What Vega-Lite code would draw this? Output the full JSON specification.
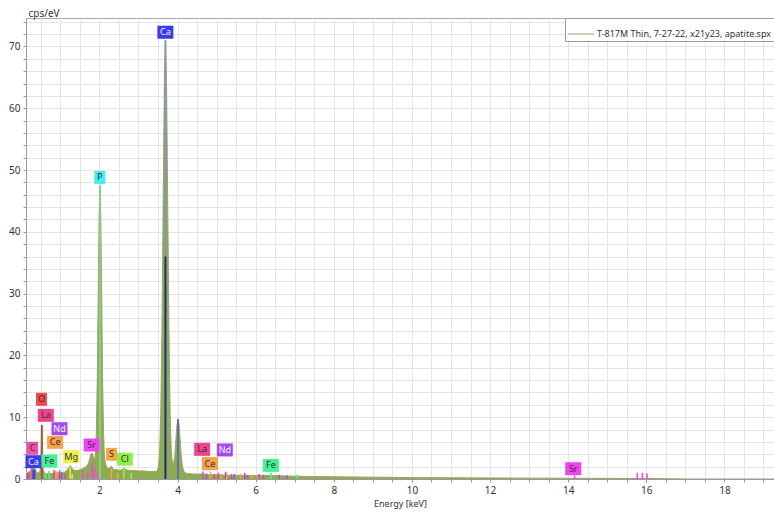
{
  "$schema": "https://vega.github.io/schema/vega-lite/v6.json",
  "width": 748,
  "height": 461,
  "autosize": {"type": "none"},
  "padding": {"left": 26, "top": 18, "right": 0, "bottom": 34},
  "background": "white",
  "config": {
    "font": "Noto Sans",
    "view": {"stroke": "#a8a8a8"}
  },
  "datasets": {
    "spectrum": [
      {"E": 0.12, "v": 0.6}, {"E": 0.16, "v": 0.9}, {"E": 0.2, "v": 1.1}, {"E": 0.24, "v": 1.4},
      {"E": 0.26, "v": 1.9}, {"E": 0.277, "v": 2.4}, {"E": 0.3, "v": 2.0}, {"E": 0.34, "v": 1.8},
      {"E": 0.38, "v": 1.2}, {"E": 0.42, "v": 1.0}, {"E": 0.46, "v": 1.0}, {"E": 0.49, "v": 1.6},
      {"E": 0.505, "v": 4.0}, {"E": 0.515, "v": 7.0}, {"E": 0.525, "v": 8.7}, {"E": 0.535, "v": 7.0},
      {"E": 0.545, "v": 4.0}, {"E": 0.56, "v": 1.6}, {"E": 0.6, "v": 0.9}, {"E": 0.65, "v": 0.8},
      {"E": 0.7, "v": 1.0}, {"E": 0.75, "v": 0.9}, {"E": 0.8, "v": 0.9}, {"E": 0.85, "v": 1.1},
      {"E": 0.9, "v": 1.0}, {"E": 0.95, "v": 1.0}, {"E": 1.0, "v": 1.0}, {"E": 1.05, "v": 1.1},
      {"E": 1.1, "v": 1.1}, {"E": 1.15, "v": 1.3}, {"E": 1.2, "v": 1.7}, {"E": 1.254, "v": 2.2},
      {"E": 1.3, "v": 1.7}, {"E": 1.35, "v": 1.4}, {"E": 1.4, "v": 1.4}, {"E": 1.45, "v": 1.4},
      {"E": 1.5, "v": 1.5}, {"E": 1.55, "v": 1.6}, {"E": 1.6, "v": 1.8}, {"E": 1.656, "v": 2.0},
      {"E": 1.706, "v": 2.4}, {"E": 1.731, "v": 2.8}, {"E": 1.756, "v": 3.4}, {"E": 1.781, "v": 4.0},
      {"E": 1.806, "v": 4.2}, {"E": 1.831, "v": 3.9}, {"E": 1.856, "v": 3.3}, {"E": 1.878, "v": 3.1},
      {"E": 1.9005, "v": 4.2}, {"E": 1.923, "v": 8.2}, {"E": 1.9455, "v": 16.6}, {"E": 1.968, "v": 29.5},
      {"E": 1.9905, "v": 42.1}, {"E": 2.013, "v": 47.5}, {"E": 2.0355, "v": 42.1}, {"E": 2.058, "v": 29.5},
      {"E": 2.0805, "v": 16.6}, {"E": 2.103, "v": 8.0}, {"E": 2.1255, "v": 3.9}, {"E": 2.148, "v": 2.7},
      {"E": 2.17, "v": 2.2}, {"E": 2.2, "v": 1.8}, {"E": 2.25, "v": 1.7}, {"E": 2.307, "v": 2.1},
      {"E": 2.35, "v": 1.6}, {"E": 2.4, "v": 1.5}, {"E": 2.46, "v": 1.5}, {"E": 2.52, "v": 1.4},
      {"E": 2.58, "v": 1.5}, {"E": 2.622, "v": 1.8}, {"E": 2.67, "v": 1.5}, {"E": 2.75, "v": 1.4},
      {"E": 2.85, "v": 1.4}, {"E": 3.0, "v": 1.3}, {"E": 3.15, "v": 1.3}, {"E": 3.3, "v": 1.2},
      {"E": 3.42, "v": 1.2}, {"E": 3.48, "v": 1.3}, {"E": 3.51, "v": 2.0}, {"E": 3.54, "v": 4.2},
      {"E": 3.57, "v": 10.5}, {"E": 3.6, "v": 23.7}, {"E": 3.63, "v": 43.5}, {"E": 3.66, "v": 62.8},
      {"E": 3.69, "v": 71.0}, {"E": 3.72, "v": 62.8}, {"E": 3.75, "v": 43.5}, {"E": 3.78, "v": 23.7},
      {"E": 3.81, "v": 10.5}, {"E": 3.84, "v": 4.4}, {"E": 3.87, "v": 2.6}, {"E": 3.9, "v": 2.5},
      {"E": 3.93, "v": 3.8}, {"E": 3.957, "v": 6.3}, {"E": 3.985, "v": 8.7}, {"E": 4.012, "v": 9.7},
      {"E": 4.04, "v": 8.7}, {"E": 4.067, "v": 6.3}, {"E": 4.095, "v": 3.8}, {"E": 4.122, "v": 2.2},
      {"E": 4.15, "v": 1.4}, {"E": 4.19, "v": 1.0}, {"E": 4.25, "v": 0.9}, {"E": 4.4, "v": 0.8},
      {"E": 4.6, "v": 0.8}, {"E": 4.8, "v": 0.7}, {"E": 5.0, "v": 0.7}, {"E": 5.3, "v": 0.6},
      {"E": 5.6, "v": 0.6}, {"E": 6.0, "v": 0.55}, {"E": 6.4, "v": 0.6}, {"E": 6.7, "v": 0.5},
      {"E": 7.0, "v": 0.45}, {"E": 7.5, "v": 0.4}, {"E": 8.0, "v": 0.37}, {"E": 8.5, "v": 0.33},
      {"E": 9.0, "v": 0.3}, {"E": 9.5, "v": 0.27}, {"E": 10.0, "v": 0.22}, {"E": 11.0, "v": 0.2},
      {"E": 12.0, "v": 0.17}, {"E": 13.0, "v": 0.14}, {"E": 14.0, "v": 0.12}, {"E": 15.0, "v": 0.1},
      {"E": 16.0, "v": 0.08}, {"E": 16.5, "v": 0.05}, {"E": 16.9, "v": 0.02}, {"E": 17.0, "v": 0.0},
      {"E": 19.27, "v": 0.0}
    ],
    "peaks": [
      {"E": 0.525, "lo": 0, "v": 8.7, "kind": "O"},
      {"E": 2.013, "lo": 0, "v": 47.5, "kind": "P"},
      {"E": 3.69, "lo": 36, "v": 71, "kind": "CaTop"},
      {"E": 3.69, "lo": 0, "v": 36, "kind": "CaKa"},
      {"E": 4.012, "lo": 0, "v": 9.7, "kind": "CaKb"}
    ],
    "markers": [
      {"E": 0.16, "v": 1.0, "el": "Nd"}, {"E": 0.2, "v": 1.2, "el": "La"},
      {"E": 0.277, "v": 2.0, "el": "C"}, {"E": 0.302, "v": 1.5, "el": "Ca"}, {"E": 0.341, "v": 1.5, "el": "Ca"},
      {"E": 0.615, "v": 1.0, "el": "Fe"}, {"E": 0.705, "v": 1.3, "el": "Fe"}, {"E": 0.718, "v": 1.0, "el": "Fe"},
      {"E": 0.833, "v": 1.4, "el": "La"}, {"E": 0.87, "v": 1.0, "el": "La"}, {"E": 0.883, "v": 1.4, "el": "Ce"},
      {"E": 0.93, "v": 1.0, "el": "Ce"}, {"E": 0.978, "v": 1.4, "el": "Nd"}, {"E": 1.03, "v": 1.0, "el": "Nd"},
      {"E": 1.12, "v": 0.9, "el": "La"}, {"E": 1.254, "v": 2.0, "el": "Mg"}, {"E": 1.302, "v": 0.8, "el": "Mg"},
      {"E": 1.582, "v": 1.2, "el": "Sr"}, {"E": 1.7, "v": 1.0, "el": "Sr"}, {"E": 1.806, "v": 2.8, "el": "Sr"},
      {"E": 1.872, "v": 1.6, "el": "Sr"}, {"E": 1.95, "v": 1.0, "el": "Sr"}, {"E": 2.307, "v": 1.6, "el": "S"},
      {"E": 2.464, "v": 1.0, "el": "S"}, {"E": 2.622, "v": 1.6, "el": "Cl"}, {"E": 2.815, "v": 1.0, "el": "Cl"},
      {"E": 4.65, "v": 1.2, "el": "La"}, {"E": 4.74, "v": 0.9, "el": "Nd"}, {"E": 4.84, "v": 1.2, "el": "Ce"},
      {"E": 4.94, "v": 0.8, "el": "La"}, {"E": 5.04, "v": 1.0, "el": "La"}, {"E": 5.12, "v": 0.8, "el": "Ce"},
      {"E": 5.23, "v": 1.2, "el": "Nd"}, {"E": 5.26, "v": 1.0, "el": "Ce"}, {"E": 5.38, "v": 0.8, "el": "La"},
      {"E": 5.45, "v": 0.8, "el": "Nd"}, {"E": 5.61, "v": 0.8, "el": "Ce"}, {"E": 5.72, "v": 1.0, "el": "Nd"},
      {"E": 5.79, "v": 0.7, "el": "La"}, {"E": 5.9, "v": 0.7, "el": "Ce"}, {"E": 6.05, "v": 0.7, "el": "Ce"},
      {"E": 6.09, "v": 0.8, "el": "Nd"}, {"E": 6.2, "v": 0.7, "el": "La"}, {"E": 6.4, "v": 1.0, "el": "Fe"},
      {"E": 6.6, "v": 0.7, "el": "Nd"}, {"E": 6.8, "v": 0.6, "el": "Nd"}, {"E": 7.06, "v": 0.7, "el": "Fe"},
      {"E": 14.165, "v": 0.6, "el": "Sr"}, {"E": 15.77, "v": 1.0, "el": "Sr"}, {"E": 15.9, "v": 1.0, "el": "Sr"},
      {"E": 16.02, "v": 0.9, "el": "Sr"}
    ],
    "labels": [
      {"E": 3.688, "v": 72.3, "el": "Ca"}, {"E": 2.01, "v": 48.8, "el": "P"},
      {"E": 0.516, "v": 12.9, "el": "O"}, {"E": 0.627, "v": 10.3, "el": "La"},
      {"E": 0.977, "v": 8.14, "el": "Nd"}, {"E": 0.865, "v": 5.94, "el": "Ce"},
      {"E": 0.286, "v": 4.97, "el": "C"}, {"E": 0.311, "v": 2.8, "el": "Ca"},
      {"E": 0.72, "v": 2.9, "el": "Fe"}, {"E": 1.275, "v": 3.6, "el": "Mg"},
      {"E": 1.8, "v": 5.5, "el": "Sr"}, {"E": 2.31, "v": 4.0, "el": "S"},
      {"E": 2.65, "v": 3.2, "el": "Cl"}, {"E": 4.63, "v": 4.8, "el": "La"},
      {"E": 5.21, "v": 4.7, "el": "Nd"}, {"E": 4.83, "v": 2.5, "el": "Ce"},
      {"E": 6.39, "v": 2.2, "el": "Fe"}, {"E": 14.13, "v": 1.67, "el": "Sr"}
    ]
  },
  "encoding": {
    "x": {
      "field": "E", "type": "quantitative",
      "scale": {"domain": [0.12, 19.27], "nice": false, "zero": false},
      "axis": {
        "title": "Energy [keV]",
        "values": [0.5, 1, 1.5, 2, 2.5, 3, 3.5, 4, 4.5, 5, 5.5, 6, 6.5, 7, 7.5, 8, 8.5, 9, 9.5, 10, 10.5, 11, 11.5, 12, 12.5, 13, 13.5, 14, 14.5, 15, 15.5, 16, 16.5, 17, 17.5, 18, 18.5, 19],
        "labelExpr": "datum.value % 2 === 0 ? format(datum.value, 'd') : ''",
        "grid": true, "gridColor": "#e4e4e4", "gridWidth": 1,
        "domainColor": "#9a9a9a", "tickColor": "#9a9a9a", "tickSize": 3,
        "labelFontSize": 10, "labelColor": "#333333", "labelPadding": 3,
        "labelOverlap": false, "labelFlush": false,
        "titleFontSize": 9, "titleFontWeight": "normal", "titleColor": "#333333",
        "titleY": 24, "titleBaseline": "middle"
      }
    },
    "y": {
      "field": "v", "type": "quantitative",
      "scale": {"domain": [0, 74.6], "nice": false, "zero": true},
      "axis": {
        "title": "cps/eV",
        "values": [0, 2, 4, 6, 8, 10, 12, 14, 16, 18, 20, 22, 24, 26, 28, 30, 32, 34, 36, 38, 40, 42, 44, 46, 48, 50, 52, 54, 56, 58, 60, 62, 64, 66, 68, 70, 72, 74],
        "labelExpr": "datum.value % 10 === 0 ? format(datum.value, 'd') : ''",
        "grid": true, "gridColor": "#e4e4e4", "gridWidth": 1,
        "domainColor": "#9a9a9a", "tickColor": "#9a9a9a", "tickSize": 3,
        "labelFontSize": 10, "labelColor": "#333333", "labelPadding": 3,
        "labelOverlap": false, "labelFlush": false,
        "titleAngle": 0, "titleX": 2, "titleY": -5, "titleAlign": "left", "titleBaseline": "middle",
        "titleFontSize": 10, "titleFontWeight": "normal", "titleColor": "#333333"
      }
    }
  },
  "layer": [
    {
      "data": {"name": "spectrum"},
      "mark": {"type": "area", "color": "#8dab50", "clip": true, "opacity": 1}
    },
    {
      "data": {"name": "spectrum"},
      "mark": {"type": "line", "strokeWidth": 1, "clip": true},
      "encoding": {
        "color": {
          "datum": "T-817M Thin, 7-27-22, x21y23, apatite.spx",
          "scale": {"range": ["#9ea36a"]},
          "legend": {
            "title": null, "orient": "none", "legendX": 539, "legendY": 0,
            "strokeColor": "#9a9a9a", "fillColor": "white", "padding": 2,
            "symbolType": "stroke", "symbolSize": 700, "symbolStrokeWidth": 1,
            "labelFontSize": 9, "labelColor": "#333333", "labelLimit": 400, "labelOffset": 2
          }
        }
      }
    },
    {
      "data": {"name": "markers"},
      "mark": {"type": "rule", "strokeWidth": 1.5, "clip": true},
      "encoding": {
        "y2": {"datum": 0},
        "color": {
          "field": "el", "type": "nominal", "legend": null,
          "scale": {
            "domain": ["Ca", "P", "O", "La", "Nd", "Ce", "C", "Mg", "Sr", "S", "Cl", "Fe"],
            "range": ["#3b3bee", "#3ef0f0", "#f04a4a", "#f0448e", "#a64af0", "#f7a24a", "#f24ea6", "#e8e84a", "#f044f0", "#f7a64a", "#90f04a", "#44f094"]
          }
        }
      }
    },
    {
      "data": {"name": "peaks"},
      "mark": {"type": "rule", "strokeWidth": 2, "clip": true},
      "encoding": {
        "y2": {"field": "lo"},
        "color": {
          "field": "kind", "type": "nominal", "legend": null,
          "scale": {
            "domain": ["O", "P", "CaTop", "CaKa", "CaKb"],
            "range": ["#a4583c", "#86cc8e", "#8a95b2", "#1e2d90", "#6070a8"]
          }
        }
      }
    },
    {
      "data": {"name": "labels"},
      "transform": [{"filter": "length(datum.el) > 1"}],
      "mark": {"type": "point", "shape": "M-1,-0.8125H1V0.8125H-1Z", "filled": true, "size": 256, "opacity": 1, "strokeWidth": 0},
      "encoding": {
        "color": {
          "field": "el", "type": "nominal", "legend": null,
          "scale": {
            "domain": ["Ca", "P", "O", "La", "Nd", "Ce", "C", "Mg", "Sr", "S", "Cl", "Fe"],
            "range": ["#3b3bee", "#3ef0f0", "#f04a4a", "#f0448e", "#a64af0", "#f7a24a", "#f24ea6", "#f0f04a", "#f044f0", "#f7a64a", "#90f04a", "#44f094"]
          }
        }
      }
    },
    {
      "data": {"name": "labels"},
      "transform": [{"filter": "length(datum.el) === 1"}],
      "mark": {"type": "point", "shape": "M-1,-1.18H1V1.18H-1Z", "filled": true, "size": 121, "opacity": 1, "strokeWidth": 0},
      "encoding": {
        "color": {
          "field": "el", "type": "nominal", "legend": null,
          "scale": {
            "domain": ["Ca", "P", "O", "La", "Nd", "Ce", "C", "Mg", "Sr", "S", "Cl", "Fe"],
            "range": ["#3b3bee", "#3ef0f0", "#f04a4a", "#f0448e", "#a64af0", "#f7a24a", "#f24ea6", "#f0f04a", "#f044f0", "#f7a64a", "#90f04a", "#44f094"]
          }
        }
      }
    },
    {
      "data": {"name": "labels"},
      "mark": {"type": "text", "fontSize": 9, "align": "center", "baseline": "middle", "font": "Noto Sans"},
      "encoding": {
        "text": {"field": "el"},
        "color": {
          "condition": {"test": "datum.el === 'Ca' || datum.el === 'Nd'", "value": "#f4f4ff"},
          "value": "#333333"
        }
      }
    }
  ],
  "resolve": {"scale": {"color": "independent"}}
}
